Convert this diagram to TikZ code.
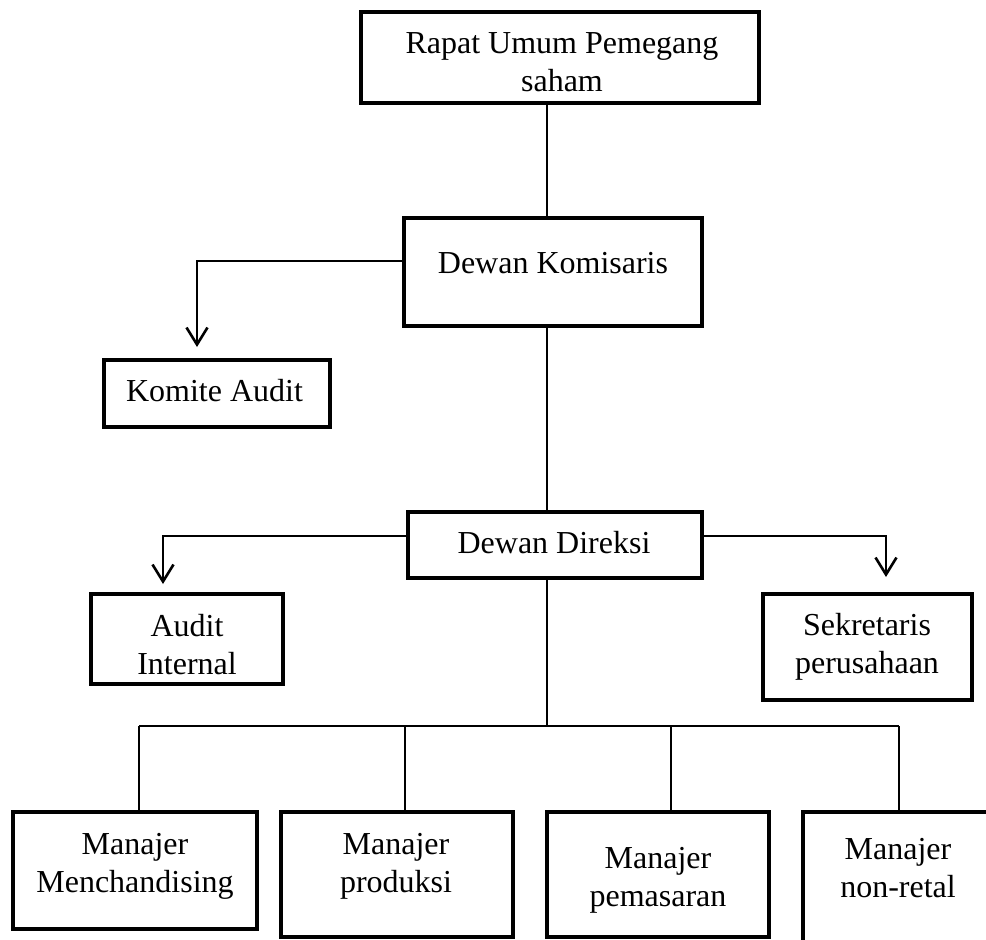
\documentclass[tikz,border=0pt]{standalone}
\usepackage{fontspec}
\setmainfont{Liberation Serif}
\usetikzlibrary{arrows.meta}
\begin{document}
\begin{tikzpicture}[x=1pt,y=-1pt,
  box/.style={draw,line width=3.2pt,inner sep=0pt},
  lbl/.style={anchor=north,inner sep=0pt,align=center,font=\fontsize{32}{38}\selectfont},
  conn/.style={line width=1.5pt},
  arr/.style={line width=2.8pt,-{Straight Barb[length=17pt,width=21pt,line width=2.6pt]}}]
\useasboundingbox (0,0) rectangle (986,940);
\clip (0,0) rectangle (986,940);
\fill[white] (0,0) rectangle (986,940);
% boxes
\node[box,minimum width=398pt,minimum height=91pt] (rups) at (560,57.5) {};
\node[box,minimum width=298pt,minimum height=108pt] (dk) at (553,272) {};
\node[box,minimum width=226pt,minimum height=67pt] (ka) at (217,393.5) {};
\node[box,minimum width=294pt,minimum height=66pt] (dd) at (555,545) {};
\node[box,minimum width=192pt,minimum height=90pt] (ai) at (187,639) {};
\node[box,minimum width=209pt,minimum height=106pt] (sp) at (867.5,647) {};
\node[box,minimum width=244pt,minimum height=117pt] (m1) at (135,870.5) {};
\node[box,minimum width=232pt,minimum height=125pt] (m2) at (397,874.5) {};
\node[box,minimum width=222pt,minimum height=125pt] (m3) at (658,874.5) {};
\node[box,minimum width=190pt,minimum height=148pt] (m4) at (898,886) {};
% texts
\node[lbl] (rupsT) at (562,32) {Rapat Umum Pemegang\\saham};
\node[lbl] (dkT) at (553,252) {Dewan Komisaris};
\node[lbl] (kaT) at (214.5,379) {Komite Audit};
\node[lbl] (ddT) at (554,531) {Dewan Direksi};
\node[lbl] (aiT) at (187,614) {Audit\\Internal};
\node[lbl] (spT) at (867,613) {Sekretaris\\perusahaan};
\node[lbl] (m1T) at (135,833) {Manajer\\Menchandising};
\node[lbl] (m2T) at (396,833) {Manajer\\produksi};
\node[lbl] (m3T) at (658,847) {Manajer\\pemasaran};
\node[lbl] (m4T) at (898,838) {Manajer\\non-retal};
% spine connectors
\coordinate (spine) at (547,0);
\coordinate (bus) at (547,726);
\coordinate (d1) at (139,726);
\coordinate (d2) at (405,726);
\coordinate (d3) at (671,726);
\coordinate (d4) at (899,726);
\draw[conn] (rups.south -| spine) -- (dk.north -| spine);
\draw[conn] (dk.south -| spine) -- (dd.north -| spine);
\draw[conn] (dd.south -| spine) -- (bus);
\draw[conn] (d1) -- (d4);
\draw[conn] (d1) -- (m1.north -| d1);
\draw[conn] (d2) -- (m2.north -| d2);
\draw[conn] (d3) -- (m3.north -| d3);
\draw[conn] (d4) -- (m4.north -| d4);
% arrows
\coordinate (kaTip) at (197,347);
\coordinate (aiTip) at (163,584);
\coordinate (spTip) at (886,577);
\draw[arr] ([yshift=11pt]dk.west) -| (kaTip);
\draw[arr] ([yshift=9pt]dd.west) -| (aiTip);
\draw[arr] ([yshift=9pt]dd.east) -| (spTip);
\end{tikzpicture}
\end{document}
